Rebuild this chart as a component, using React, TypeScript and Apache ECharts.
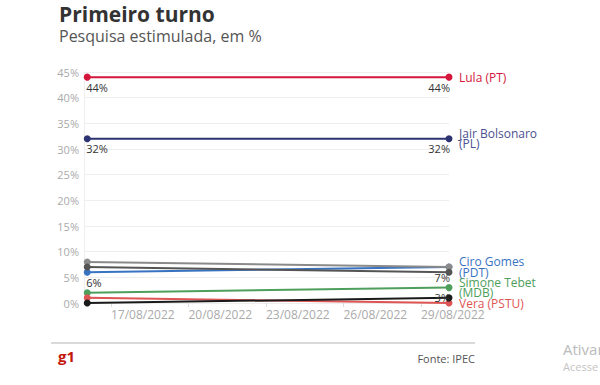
import React, { useEffect, useRef } from "react";
import * as echarts from "echarts";

const dates = ["2022-08-16T02:00:00", "2022-08-30T02:00:00"];
const tickDates = ["2022-08-17", "2022-08-20", "2022-08-23", "2022-08-26", "2022-08-29"];
const yTicks = [0, 5, 10, 15, 20, 25, 30, 35, 40, 45];

const lula = [44, 44];
const bolsonaro = [32, 32];
const ciro = [6, 7];
const simone = [2, 3];
const vera = [1, 0];
const outroClaro = [8, 7];
const outroEscuro = [7, 6];
const outroPreto = [0, 1];

const FONT = "'Open Sans', 'Noto Sans', sans-serif";

function parseLocal(s: string): number {
  const [d, t] = s.split("T");
  const [y, m, dd] = d.split("-").map(Number);
  let h = 0, mi = 0;
  if (t) {
    const p = t.split(":").map(Number);
    h = p[0];
    mi = p[1];
  }
  return new Date(y, m - 1, dd, h, mi).getTime();
}

function pad(n: number) {
  return n < 10 ? "0" + n : "" + n;
}

export default function App() {
  const ref = useRef<HTMLDivElement>(null);
  useEffect(() => {
    if (!ref.current) return;
    const chart = echarts.init(ref.current, null, { renderer: "svg" });
    const xs = dates.map(parseLocal);
    const ticks = tickDates.map(parseLocal);

    const mkData = (vals: number[], labels: boolean[]) =>
      vals.map((v, i) => ({
        value: [xs[i], v],
        label: {
          show: labels[i],
          position: "bottom",
          distance: 1,
          align: i === 0 ? "left" : "right",
          offset: i === 0 ? [-1, 0] : [1, 0],
          formatter: v + "%",
          color: "#333",
          fontSize: 11,
          fontFamily: FONT,
        },
      }));

    const mkSeries = (
      name: string,
      vals: number[],
      color: string,
      labels: boolean[],
      endName: string | null,
      endColor?: string
    ) => ({
      name,
      type: "line",
      data: mkData(vals, labels),
      symbol: "circle",
      symbolSize: 7,
      lineStyle: { width: 2, color },
      itemStyle: { color },
      emphasis: { disabled: true },
      endLabel: endName
        ? {
            show: true,
            formatter: endName,
            color: endColor || color,
            fontSize: 12,
            lineHeight: 10.5,
            fontFamily: FONT,
            distance: 10,
          }
        : { show: false },
    });

    chart.setOption({
      animation: false,
      grid: { left: 84, right: 151, top: 72, bottom: 82 },
      xAxis: {
        type: "value",
        min: xs[0] - 3 * 3600 * 1000,
        max: xs[1],
        axisLine: { show: false },
        splitLine: { show: false },
        axisTick: {
          show: true,
          customValues: ticks,
          length: 4,
          lineStyle: { color: "#ddd" },
        },
        axisLabel: {
          customValues: ticks,
          align: "left",
          color: "#aaa",
          fontSize: 12,
          fontFamily: FONT,
          margin: 5,
          formatter: (v: number) => {
            const d = new Date(v);
            return pad(d.getDate()) + "/" + pad(d.getMonth() + 1) + "/" + d.getFullYear();
          },
        },
      },
      yAxis: {
        type: "value",
        min: yTicks[0],
        max: yTicks[yTicks.length - 1],
        interval: 5,
        axisLine: { show: true, lineStyle: { color: "#eee" } },
        axisTick: { show: false },
        splitLine: { lineStyle: { color: "#eee" } },
        axisLabel: {
          formatter: "{value}%",
          color: "#aaa",
          fontSize: 11,
          fontFamily: FONT,
          margin: 5,
        },
      },
      series: [
        mkSeries("Ciro Gomes", ciro, "#3873c2", [true, true], "Ciro Gomes\n(PDT)", "#3873c2"),
        mkSeries("Simone Tebet", simone, "#4e9e5c", [false, true], "Simone Tebet\n(MDB)", "#4e9e5c"),
        mkSeries("Vera", vera, "#de5454", [false, false], "Vera (PSTU)", "#de5454"),
        mkSeries("Outro A", outroClaro, "#8a8a8a", [false, false], null),
        mkSeries("Outro B", outroEscuro, "#555555", [false, false], null),
        mkSeries("Outro C", outroPreto, "#1a1a1a", [false, false], null),
        mkSeries("Jair Bolsonaro", bolsonaro, "#2c3272", [true, true], "Jair Bolsonaro\n(PL)", "#4b5190"),
        mkSeries("Lula", lula, "#d4163c", [true, true], "Lula (PT)", "#d4163c"),
      ],
      graphic: [
        {
          type: "text",
          left: 59,
          top: 3,
          style: {
            text: "Primeiro turno",
            fontSize: 21,
            fontWeight: "bold",
            fill: "#333",
            fontFamily: FONT,
          },
        },
        {
          type: "text",
          left: 59,
          top: 28,
          style: {
            text: "Pesquisa estimulada, em %",
            fontSize: 16,
            fill: "#555",
            fontFamily: FONT,
          },
        },
        {
          type: "line",
          shape: { x1: 51, y1: 343, x2: 475, y2: 343 },
          style: { stroke: "#ccc", lineWidth: 1.5 },
        },
        {
          type: "text",
          left: 58,
          top: 348,
          style: {
            text: "g1",
            fontSize: 15,
            fontWeight: "bold",
            fill: "#c4170c",
            fontFamily: FONT,
          },
        },
        {
          type: "text",
          right: 125,
          top: 353,
          style: {
            text: "Fonte: IPEC",
            fontSize: 11,
            fill: "#555",
            fontFamily: FONT,
          },
        },
        {
          type: "text",
          x: 563,
          y: 341,
          style: {
            text: "Ativar o Windows",
            fontSize: 15,
            fill: "#bbb",
            fontFamily: FONT,
          },
        },
        {
          type: "text",
          x: 563,
          y: 361,
          style: {
            text: "Acesse Configurações",
            fontSize: 11,
            fill: "#c4c4c4",
            fontFamily: FONT,
          },
        },
      ],
    });
    return () => chart.dispose();
  }, []);
  return (
    <div
      ref={ref}
      style={{ position: "fixed", left: 0, top: 0, width: 600, height: 385, background: "#fff" }}
    />
  );
}
